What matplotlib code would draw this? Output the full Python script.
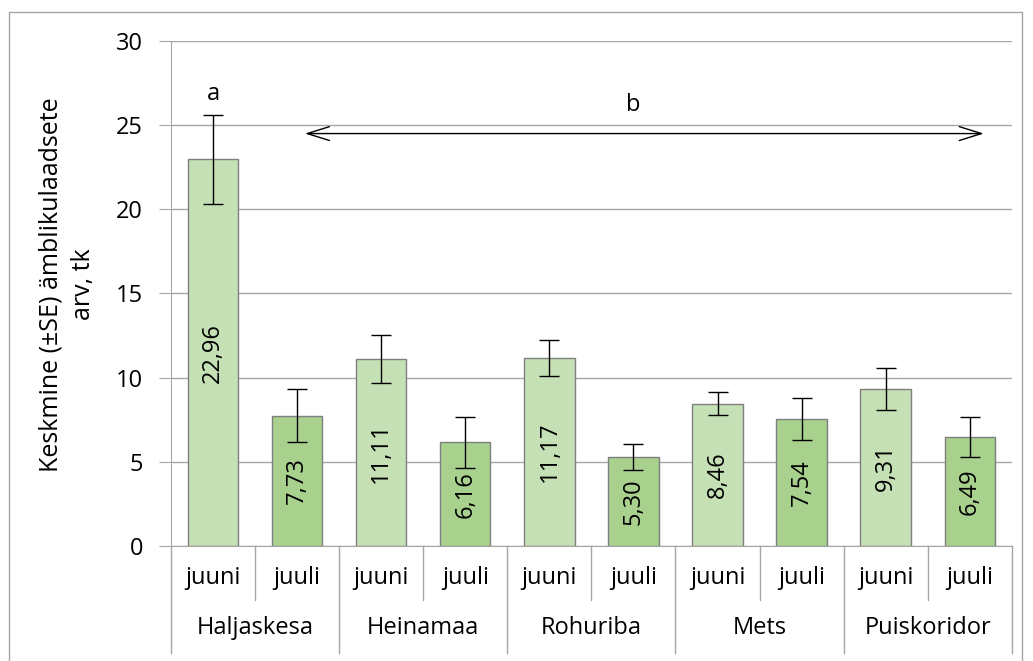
import matplotlib
matplotlib.use('Agg')
import matplotlib.pyplot as plt
from matplotlib.patches import Rectangle

# Andmed
groups = ['Haljaskesa', 'Heinamaa', 'Rohuriba', 'Mets', 'Puiskoridor']
months = ['juuni', 'juuli']
values = [22.96, 7.73, 11.11, 6.16, 11.17, 5.30, 8.46, 7.54, 9.31, 6.49]
errors = [2.67, 1.58, 1.44, 1.52, 1.05, 0.76, 0.68, 1.23, 1.26, 1.18]
labels = ['22,96', '7,73', '11,11', '6,16', '11,17', '5,30', '8,46', '7,54', '9,31', '6,49']

colors = {'juuni': '#c5e0b4', 'juuli': '#a9d18e'}

plt.rcParams['font.family'] = ['Open Sans', 'DejaVu Sans']
FS = 17

fig = plt.figure(figsize=(10.33, 6.61), dpi=100)
ax = fig.add_axes([0.1655, 0.174, 0.814, 0.764])

# raam ümber joonise
fig.patches.append(Rectangle((9 / 1033, -0.1), (1022 - 9) / 1033, 1.1 - 12 / 661,
                             transform=fig.transFigure, fill=False,
                             edgecolor='#a6a6a6', linewidth=1))

x = list(range(len(values)))
bar_colors = [colors[months[i % 2]] for i in x]
ax.bar(x, values, width=0.6, color=bar_colors, edgecolor='#7f7f7f', linewidth=1,
       yerr=errors, error_kw=dict(ecolor='black', elinewidth=1, capsize=7, capthick=1),
       zorder=2)

for i, (v, lab) in enumerate(zip(values, labels)):
    ax.text(i, v / 2, lab, rotation=90, ha='center', va='center', fontsize=FS, zorder=3)

ax.set_xlim(-0.5, 9.5)
ax.set_ylim(0, 30)
ax.set_yticks(range(0, 31, 5))
ax.yaxis.grid(True, color='#a6a6a6', linewidth=1)
ax.set_axisbelow(True)
ax.tick_params(axis='y', length=9, color='#a6a6a6', labelsize=FS, pad=11)
ax.set_xticks([])
for s in ['top', 'right']:
    ax.spines[s].set_visible(False)
ax.spines['left'].set_color('#a6a6a6')
ax.spines['bottom'].set_color('#a6a6a6')

# y-telje pealkiri
fig.text(67 / 1033, 1 - 284.5 / 661, 'Keskmine (±SE) ämblikulaadsete\narv, tk',
         rotation=90, ha='center', va='center', fontsize=18, linespacing=1.42,
         multialignment='center')

# kategooriate telg
tr = ax.get_xaxis_transform()
for i in range(len(values) + 1):
    xb = i - 0.5
    bottom = -0.212 if i % 2 == 0 else -0.107
    ax.plot([xb, xb], [0, bottom], transform=tr, color='#a6a6a6', lw=1, clip_on=False)
for i in x:
    ax.text(i, -0.063, months[i % 2], transform=tr, ha='center', va='center', fontsize=FS)
for g, name in enumerate(groups):
    ax.text(2 * g + 0.5, -0.162, name, transform=tr, ha='center', va='center', fontsize=FS)

# tähised
ax.text(0, 26.85, 'a', ha='center', va='center', fontsize=FS)
ax.text(5.0, 26.2, 'b', ha='center', va='center', fontsize=FS)
ax.annotate('', xy=(1.06, 24.5), xytext=(9.2, 24.5),
            arrowprops=dict(arrowstyle='<->,head_length=1.6,head_width=0.5',
                            color='black', lw=1))

fig.savefig('out.png', dpi=100)
